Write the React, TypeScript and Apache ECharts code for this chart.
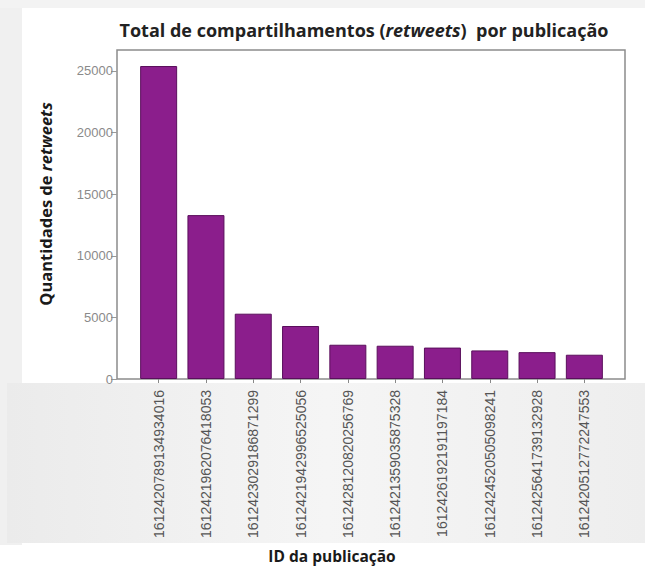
import React, { useEffect, useRef } from "react";
import * as echarts from "echarts";

const categories = [
  "1612420789134934016",
  "1612421962076418053",
  "1612423029186871299",
  "1612421942996525056",
  "1612428120820256769",
  "1612421359035875328",
  "1612426192191197184",
  "1612424520505098241",
  "1612425641739132928",
  "1612420512772247553",
];
const retweets = [25400, 13300, 5300, 4300, 2780, 2700, 2550, 2320, 2180, 1970];
const yMin = 0;
const yMax = 26700;
const yInterval = 5000;

const titleText = "{b|Total de compartilhamentos (}{i|retweets}{b|)  por publicação}";
const yTitleText = "{b|Quantidades de }{i|retweets}";
const xTitleText = "ID da publicação";

export default function App() {
  const ref = useRef<HTMLDivElement>(null);
  useEffect(() => {
    document.body.style.margin = "0";
    const chart = echarts.init(ref.current!, null, { renderer: "svg" });
    const font = "'Open Sans', 'DejaVu Sans', sans-serif";
    chart.setOption({
      animation: false,
      backgroundColor: "#ffffff",
      graphic: [
        { type: "rect", z: -10, silent: true, shape: { x: 0, y: 0, width: 22, height: 545 }, style: { fill: "#f0f0f0" } },
        { type: "rect", z: -10, silent: true, shape: { x: 0, y: 0, width: 645, height: 8 }, style: { fill: "#f3f3f3" } },
        {
          type: "rect",
          z: -10,
          silent: true,
          shape: { x: 7, y: 383, width: 638, height: 160 },
          style: {
            fill: new echarts.graphic.LinearGradient(0, 0, 1, 0, [
              { offset: 0, color: "#ebebeb" },
              { offset: 0.5, color: "#f5f5f5" },
              { offset: 1, color: "#eeeeee" },
            ]),
          },
        },
        {
          type: "text",
          x: 364,
          y: 30,
          style: {
            text: titleText,
            textAlign: "center",
            textVerticalAlign: "middle",
            rich: {
              b: { fontFamily: font, fontWeight: "bold", fontSize: 18, fill: "#222" },
              i: { fontFamily: font, fontWeight: "bold", fontStyle: "italic", fontSize: 18, fill: "#222" },
            },
          },
        },
        {
          type: "text",
          x: 45,
          y: 204,
          rotation: Math.PI / 2,
          style: {
            text: yTitleText,
            textAlign: "center",
            textVerticalAlign: "middle",
            rich: {
              b: { fontFamily: font, fontWeight: "bold", fontSize: 16.5, fill: "#1a1a1a" },
              i: { fontFamily: font, fontWeight: "bold", fontStyle: "italic", fontSize: 16.5, fill: "#1a1a1a" },
            },
          },
        },
        {
          type: "text",
          x: 332,
          y: 556,
          style: {
            text: xTitleText,
            textAlign: "center",
            textVerticalAlign: "middle",
            fontFamily: font,
            fontWeight: "bold",
            fontSize: 15.5,
            fill: "#1a1a1a",
          },
        },
      ],
      grid: [
        { left: 135, right: 37, top: 50, bottom: 192, show: false },
        {
          left: 117,
          right: 20,
          top: 50,
          bottom: 192,
          show: true,
          backgroundColor: "#ffffff",
          borderColor: "#8c8c8c",
          borderWidth: 1.5,
        },
      ],
      xAxis: [
        {
          type: "category",
          gridIndex: 0,
          data: categories,
          axisLine: { show: false },
          axisTick: { show: true, alignWithLabel: true, length: 4, lineStyle: { color: "#888" } },
          axisLabel: {
            rotate: 90,
            margin: 11,
            interval: 0,
            color: "#555",
            fontFamily: "'Liberation Sans', Arial, sans-serif",
            fontSize: 14,
          },
        },
        { type: "value", gridIndex: 1, show: false },
      ],
      yAxis: [
        {
          type: "value",
          gridIndex: 0,
          min: yMin,
          max: yMax,
          interval: yInterval,
          offset: 18,
          splitLine: { show: false },
          axisLine: { show: false },
          axisTick: { show: true, length: 6, lineStyle: { color: "#999" } },
          axisLabel: {
            showMaxLabel: false,
            margin: 4,
            color: "#8a8a8a",
            fontFamily: "'Liberation Sans', Arial, sans-serif",
            fontSize: 13,
            formatter: (v: number) => String(v),
          },
        },
        { type: "value", gridIndex: 1, show: false },
      ],
      series: [
        {
          type: "bar",
          xAxisIndex: 0,
          yAxisIndex: 0,
          data: retweets,
          barWidth: 37,
          itemStyle: { color: "#8b1e8c", borderColor: "#5a0f5c", borderWidth: 1 },
          z: 5,
        },
      ],
    });
    return () => chart.dispose();
  }, []);
  return <div ref={ref} style={{ width: 645, height: 571 }} />;
}
